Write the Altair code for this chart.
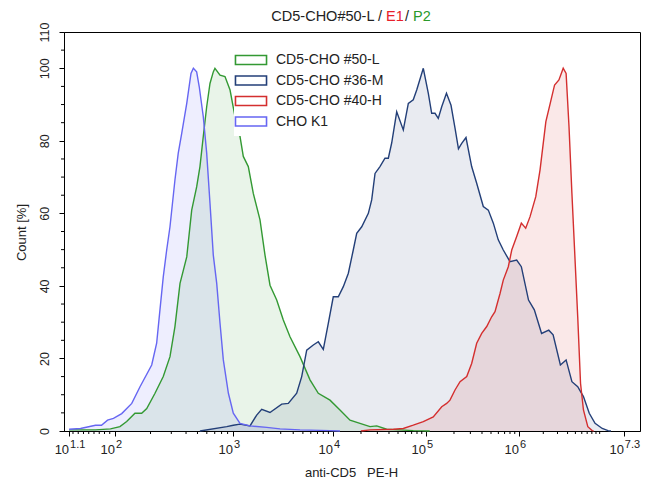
import math
import altair as alt
import pandas as pd

# ---------------- data ----------------
series_names = ["CD5-CHO #50-L", "CD5-CHO #36-M", "CD5-CHO #40-H", "CHO K1"]
line_colors = ["#339933", "#233f78", "#d42f2f", "#6666f2"]
fill_colors = ["rgba(51,153,51,0.11)", "rgba(35,63,120,0.10)",
               "rgba(212,47,47,0.11)", "rgba(102,102,242,0.11)"]

# x values are log10(anti-CD5 PE-H)
green_x = [1.1, 1.617, 1.912, 2.042, 2.099, 2.169, 2.226, 2.269, 2.339, 2.409,
           2.466, 2.508, 2.551, 2.608, 2.650, 2.692, 2.720, 2.748, 2.777, 2.805,
           2.833, 2.847, 2.890, 2.932, 2.975, 3.02, 3.07, 3.103, 3.153, 3.203,
           3.27, 3.32, 3.37, 3.437, 3.503, 3.57, 3.67, 3.77, 3.853, 3.97,
           4.075, 4.183, 4.29, 4.398, 4.47, 4.577, 4.72, 4.863, 5.04]
green_y = [0.3, 0.3, 0.6, 1.2, 2.6, 4.9, 4.9, 6.2, 10.4, 15,
           20.5, 28.8, 40.7, 48, 60.9, 67.3, 72.9, 81.2, 89.4, 95.8,
           99, 100, 98.1, 97.7, 94, 86.7, 81.2, 75.7, 72.9, 65.5,
           58.2, 48.5, 40.2, 36.1, 30.6, 26, 20.5, 14.1, 10.4, 8.5,
           5.8, 3.0, 2.1, 1.2, 1.4, 0.5, 0.3, 0.1, 0]

navy_x = [2.72, 2.947, 3.003, 3.07, 3.17, 3.237, 3.287, 3.37, 3.487, 3.553,
          3.637, 3.687, 3.737, 3.803, 3.853, 3.903, 3.953, 4.003, 4.057, 4.111,
          4.165, 4.218, 4.255, 4.309, 4.380, 4.416, 4.452, 4.505, 4.559, 4.595,
          4.631, 4.685, 4.756, 4.810, 4.863, 4.900, 4.971, 5.025, 5.061, 5.097,
          5.132, 5.169, 5.220, 5.269, 5.312, 5.349, 5.384, 5.430, 5.491, 5.545,
          5.616, 5.670, 5.724, 5.777, 5.831, 5.903, 5.975, 6.029, 6.118, 6.190,
          6.280, 6.369, 6.423, 6.513, 6.584, 6.656, 6.728, 6.799, 6.871, 6.943,
          7.032, 7.104, 7.14]
navy_y = [0, 1.2, 1.6, 1.9, 1.4, 4.4, 6.0, 5.1, 7.4, 7.6,
          10.4, 15, 22.3, 23.7, 24.6, 22.5, 29.7, 37, 37, 39.8,
          43.5, 49.9, 54.5, 56.3, 60, 63.7, 71, 72.9, 75.2, 75.2,
          79.4, 88, 83, 90.3, 91.3, 94, 100, 93.1, 87.6, 87.6,
          86.2, 89.4, 93.1, 89.8, 83.5, 77.8, 79.3, 80.9, 72.9, 68.3,
          61.9, 60.9, 57.3, 52.7, 49.9, 46.7, 47.1, 45.3, 36.1, 33.4,
          26.9, 27.8, 26.5, 18.2, 19.6, 13.6, 12.2, 9.5, 4.9, 2.1,
          0.7, 0.1, 0]

red_x = [4.30, 4.398, 4.649, 4.756, 4.863, 4.971, 5.078, 5.169, 5.222, 5.258,
         5.312, 5.366, 5.438, 5.491, 5.545, 5.599, 5.653, 5.706, 5.742, 5.796,
         5.831, 5.885, 5.922, 5.975, 6.029, 6.083, 6.137, 6.208, 6.261, 6.333,
         6.387, 6.441, 6.495, 6.548, 6.584, 6.620, 6.656, 6.692, 6.728, 6.763,
         6.799, 6.853, 6.907, 6.925]
red_y = [0, 0.3, 0.5, 0.7, 1.6, 2.6, 3.9, 6.7, 7.6, 8.5,
         11.3, 13.6, 15, 18.6, 24.2, 26.9, 28.8, 31.5, 32.9, 37.9,
         41.6, 45.3, 49.9, 53.6, 57.3, 55.9, 59.1, 64.6, 72, 85.3,
         90.3, 95.4, 96.8, 100, 98.6, 83.9, 65.5, 48.5, 31.5, 13.1,
         5.8, 1.2, 0.1, 0]

blue_x = [1.1, 1.324, 1.617, 1.735, 1.854, 1.970, 2.057, 2.142, 2.212, 2.311,
          2.353, 2.381, 2.409, 2.438, 2.466, 2.508, 2.536, 2.565, 2.608, 2.644,
          2.664, 2.692, 2.714, 2.748, 2.777, 2.805, 2.833, 2.862, 2.890, 2.918,
          2.961, 3.003, 3.07, 3.17, 3.337, 3.47, 3.67, 3.97, 4.075]
blue_y = [0.5, 0.7, 1.6, 1.6, 3.0, 3.5, 4.8, 7.6, 12.2, 18.2,
          24.2, 33.4, 42.5, 49.9, 56.3, 69.2, 76.6, 82, 90.3, 98.6,
          100, 99, 94.9, 86.7, 76.6, 62.8, 48.5, 40.7, 29.7, 19.6,
          10.4, 4.9, 2.1, 1.4, 1.0, 0.6, 0.3, 0.1, 0]

# axis ticks
x_major = [1.1, 2, 3, 4, 5, 6, 7.3]
x_exponents = ["1.1", "2", "3", "4", "5", "6", "7.3"]
y_major = [0, 20, 40, 60, 80, 100, 110]
y_minor = [5, 10, 15, 25, 30, 35, 45, 50, 55, 65, 70, 75, 85, 90, 95, 105]

# minor x ticks: linear spacing below 100, log spacing above
lo = 10 ** 1.1
x_minor = [1.1 + 0.9 * (v - lo) / (100 - lo) for v in range(20, 100, 10)]
for d in range(2, 7):
    for k in range(2, 10):
        x_minor.append(d + math.log10(k))
x_minor.append(7.0)

# ---------------- frames ----------------
rows = []
for name, xs, ys in zip(series_names, [green_x, navy_x, red_x, blue_x],
                        [green_y, navy_y, red_y, blue_y]):
    for x, y in zip(xs, ys):
        rows.append({"series": name, "x": x, "count": y})
df = pd.DataFrame(rows)

ticks_df = pd.DataFrame({"pos": x_major, "base": ["10"] * len(x_major), "exp": x_exponents})
xminor_df = pd.DataFrame({"pos": x_minor})
yminor_df = pd.DataFrame({"v": y_minor})

FONT = "Liberation Sans"
W, H = 576, 399

xscale = alt.Scale(domain=[1.1, 2, 3, 4, 5, 6, 7.3],
                   range=[0, 51, 169, 269, 362, 455, 576])
yscale = alt.Scale(domain=[0, 110], nice=False, zero=True)

legend_kw = dict(title=None, orient="none", legendX=170, legendY=11,
                 symbolType="M-1.53,-0.44H1.53V0.44H-1.53Z", symbolSize=412,
                 symbolStrokeWidth=1.6, labelFontSize=14, labelFont=FONT,
                 labelColor="#222", labelOffset=14, rowPadding=1.5, padding=6,
                 fillColor="white")

x_enc = alt.X("x:Q", scale=xscale,
              axis=alt.Axis(values=x_major, labels=False, tickSize=5, grid=False,
                            domainColor="#000", tickColor="#000",
                            title="anti-CD5\u00a0\u00a0 PE-H", titleFont=FONT,
                            titleFontSize=13, titleFontWeight="normal",
                            titleColor="#222", titleX=287, titleY=41,
                            titleBaseline="middle"))
y_enc = alt.Y("count:Q", scale=yscale, stack=None,
              axis=alt.Axis(values=y_major, tickSize=5, grid=False,
                            labelAngle=270, labelAlign="center",
                            labelBaseline="bottom", labelPadding=8,
                            labelFont=FONT, labelFontSize=12.5, labelColor="#222",
                            domainColor="#000", tickColor="#000",
                            title="Count [%]", titleFont=FONT, titleFontSize=13,
                            titleFontWeight="normal", titleColor="#222",
                            titleAngle=270, titleX=-43, titleY=200,
                            titleAlign="center", titleBaseline="middle"))

areas = alt.Chart(df).mark_area(opacity=1, interpolate="linear").encode(
    x=x_enc, y=y_enc,
    fill=alt.Fill("series:N", scale=alt.Scale(domain=series_names, range=fill_colors),
                  legend=alt.Legend(**legend_kw)),
)
lines = alt.Chart(df).mark_line(strokeWidth=1.4).encode(
    x="x:Q", y=alt.Y("count:Q", stack=None),
    stroke=alt.Stroke("series:N", scale=alt.Scale(domain=series_names, range=line_colors),
                      legend=alt.Legend(**legend_kw)),
    detail="series:N",
)

xminor = alt.Chart(xminor_df).mark_rule(color="#000", strokeWidth=1).encode(
    x="pos:Q", y=alt.value(H), y2=alt.value(H + 3))
yminor = alt.Chart(yminor_df).mark_rule(color="#000", strokeWidth=1).encode(
    y="v:Q", x=alt.value(0), x2=alt.value(-3))

base_lbl = alt.Chart(ticks_df).mark_text(align="right", baseline="alphabetic",
                                         font=FONT, fontSize=13, color="#222").encode(
    x="pos:Q", y=alt.value(H + 23), text="base:N")
exp_lbl = alt.Chart(ticks_df).mark_text(align="left", baseline="alphabetic", dx=1,
                                        font=FONT, fontSize=11, color="#222").encode(
    x="pos:Q", y=alt.value(H + 17), text="exp:N")

title_parts = []
for txt, col, xpos, al in [("CD5-CHO#50-L /", "#222", 318, "right"),
                           ("E1", "#e8202a", 322, "left"),
                           ("/", "#222", 341, "left"),
                           ("P2", "#2a9a2a", 349, "left")]:
    title_parts.append(
        alt.Chart(pd.DataFrame({"t": [txt]})).mark_text(
            align=al, baseline="middle", font=FONT, fontSize=14.5, color=col
        ).encode(x=alt.value(xpos), y=alt.value(-15), text="t:N"))

chart = alt.layer(areas, lines, xminor, yminor, base_lbl, exp_lbl, *title_parts).resolve_scale(
    fill="independent", stroke="independent"
).properties(
    width=W, height=H, autosize="none",
    padding={"left": 56, "top": 24, "right": 11, "bottom": 48},
).configure_view(stroke="#000", strokeWidth=1).configure_axis(labelFontWeight="normal")

chart.save("out.html", embed_options={"renderer": "svg", "actions": False})
